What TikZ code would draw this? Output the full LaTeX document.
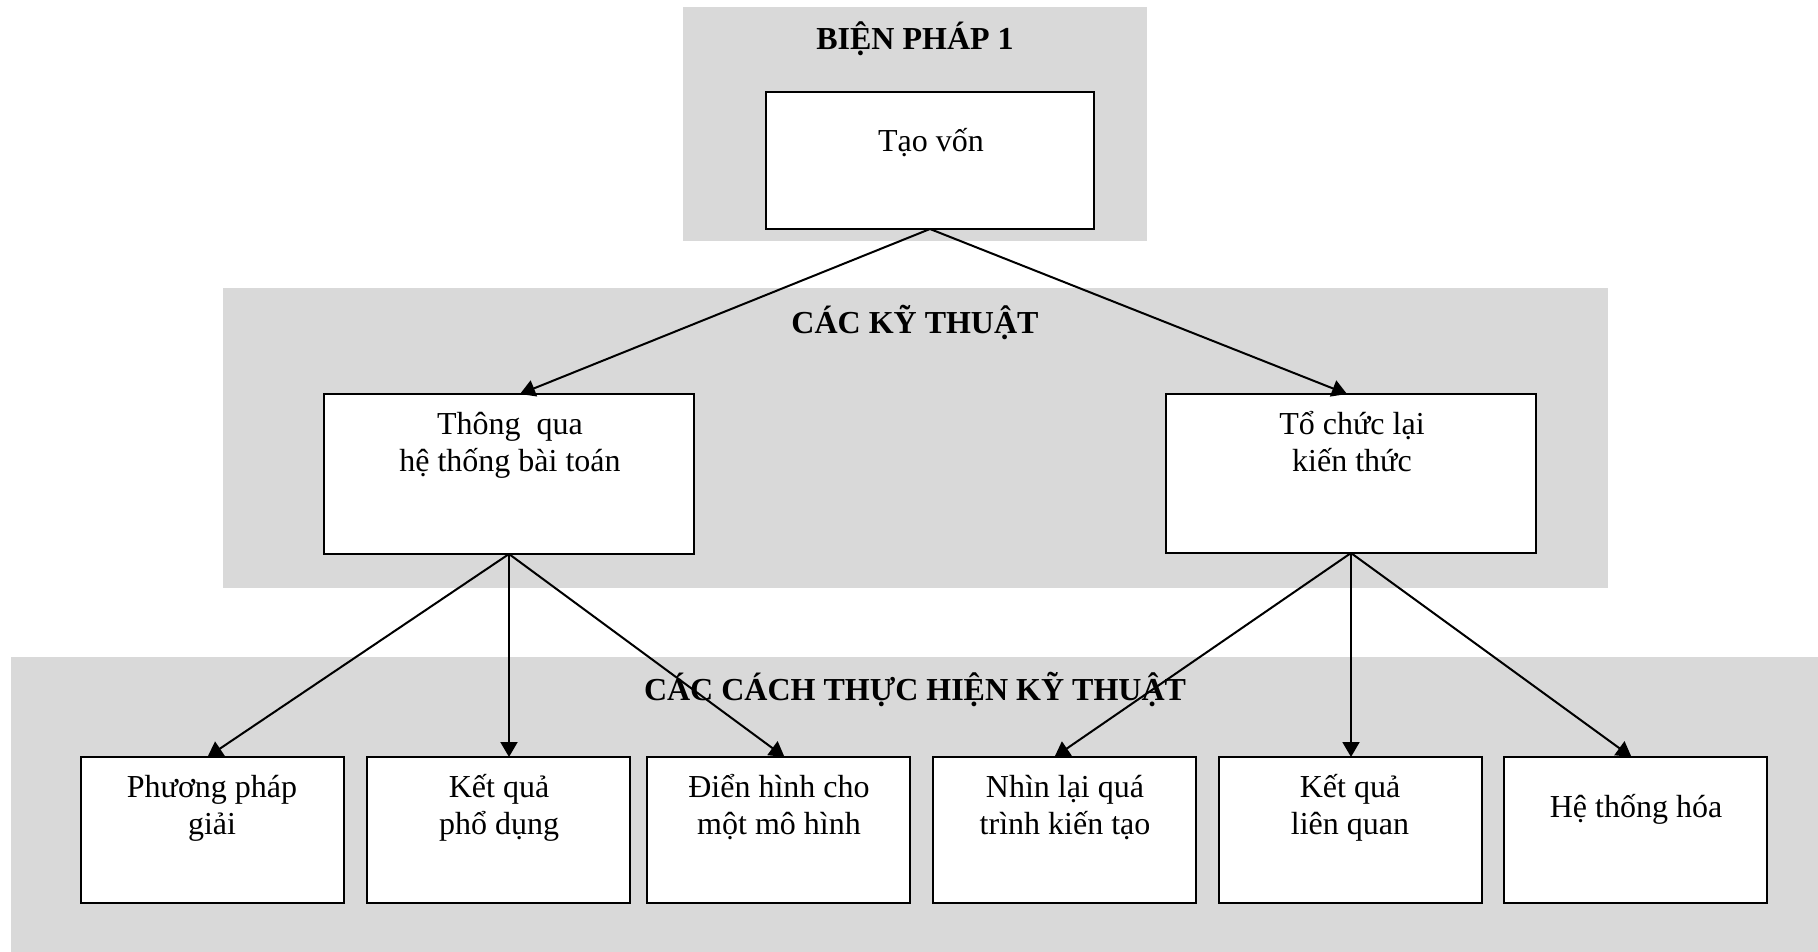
\documentclass[tikz,border=0pt]{standalone}
\usepackage{fontspec}
\setmainfont{Liberation Serif}
\usetikzlibrary{arrows.meta,calc}
\definecolor{band}{RGB}{217,217,217}
\newcommand\mlines[1]{\begin{tabular}[t]{@{}c@{}}#1\end{tabular}}
\begin{document}
\begin{tikzpicture}[x=1pt,y=-1pt,
  bandbox/.style={fill=band,draw=none},
  box/.style={draw=black,fill=white,line width=1.8pt,inner sep=0pt,outer sep=0pt,anchor=north west},
  txt/.style={inner sep=0pt,anchor=base,font=\fontsize{32}{37}\selectfont},
  ttl/.style={inner sep=0pt,anchor=base,font=\fontsize{32}{37}\selectfont\bfseries},
  arr/.style={line width=2pt,-{Triangle[length=15pt,width=17pt]}}]
\useasboundingbox (0,0) rectangle (1818,952);
% bands
\fill[band] (683,7) rectangle (1147,241);
\fill[band] (223,288) rectangle (1608,588);
\fill[band] (11,657) rectangle (1818,952);
% titles
\node[ttl] (t1) at (915,50) {BIỆN PHÁP 1};
\node[ttl] (t2) at (915,333) {CÁC KỸ THUẬT};
\node[ttl] (t3) at (915,700) {CÁC CÁCH THỰC HIỆN KỸ THUẬT};
% boxes
\node[box,minimum width=328pt,minimum height=137pt] (tao) at (766,92) {};
\node[box,minimum width=370pt,minimum height=160pt] (tq) at (324,394) {};
\node[box,minimum width=370pt,minimum height=159pt] (tc) at (1166,394) {};
\foreach \n/\x in {b1/81,b2/367,b3/647,b4/933,b5/1219,b6/1504}{
  \node[box,minimum width=263pt,minimum height=146pt] (\n) at (\x,757) {};
}
% texts
\node[txt] (taot) at (931,152) {Tạo vốn};
\node[txt] (tqt) at (510,434) {\mlines{Thông\ \ qua\\hệ thống bài toán}};
\node[txt] (tct) at (1352,434) {\mlines{Tổ chức lại\\kiến thức}};
\node[txt] (b1t) at (212,797) {\mlines{Phương pháp\\giải}};
\node[txt] (b2t) at (499,797) {\mlines{Kết quả\\phổ dụng}};
\node[txt] (b3t) at (779,797) {\mlines{Điển hình cho\\một mô hình}};
\node[txt] (b4t) at (1065,797) {\mlines{Nhìn lại quá\\trình kiến tạo}};
\node[txt] (b5t) at (1350,797) {\mlines{Kết quả\\liên quan}};
\node[txt] (b6t) at (1636,817) {Hệ thống hóa};
% arrows
\draw[arr] (tao.south) -- ($(tq.north)+(11,0)$);
\draw[arr] (tao.south) -- ($(tc.north)+(-4,0)$);
\draw[arr] (tq.south) -- ($(b1.north)+(-5,0)$);
\draw[arr] (tq.south) -- (tq.south |- b2.north);
\draw[arr] (tq.south) -- ($(b3.north)+(6,0)$);
\draw[arr] (tc.south) -- ($(b4.north)+(-10,0)$);
\draw[arr] (tc.south) -- (tc.south |- b5.north);
\draw[arr] (tc.south) -- ($(b6.north)+(-4,0)$);
\end{tikzpicture}
\end{document}
